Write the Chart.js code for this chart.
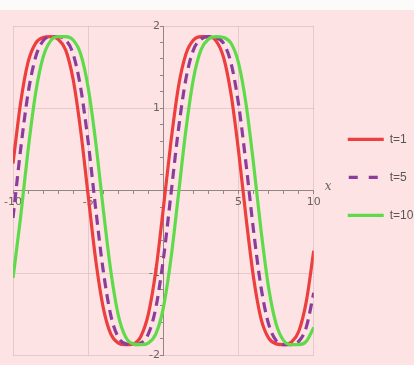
<!DOCTYPE html>
<html>
<head>
<meta charset="utf-8">
<script src="https://cdn.jsdelivr.net/npm/chart.js@4.4.1/dist/chart.umd.min.js"></script>
<style>
  html, body { margin: 0; padding: 0; background: #fff; }
</style>
</head>
<body>
<canvas id="chart" width="414" height="365"></canvas>
<script>
// x positions read along the axis
const xValues = [-10, -9.5, -9, -8.5, -8, -7.5, -7, -6.5, -6, -5.5, -5, -4.5, -4, -3.5, -3, -2.5, -2, -1.5, -1, -0.5,
  0, 0.5, 1, 1.5, 2, 2.5, 3, 3.5, 4, 4.5, 5, 5.5, 6, 6.5, 7, 7.5, 8, 8.5, 9, 9.5, 10];

// curve values
const uT1 = [0.33, 1.06, 1.56, 1.79, 1.86, 1.87, 1.84, 1.71, 1.35, 0.73, -0.06, -0.84, -1.42, -1.74, -1.85, -1.87, -1.86, -1.77, -1.50, -0.97,
  -0.21, 0.59, 1.26, 1.66, 1.83, 1.87, 1.87, 1.82, 1.62, 1.17, 0.48, -0.33, -1.06, -1.56, -1.79, -1.86, -1.87, -1.84, -1.71, -1.35, -0.73];
const uT5 = [-0.33, 0.49, 1.18, 1.62, 1.82, 1.87, 1.87, 1.83, 1.66, 1.25, 0.59, -0.22, -0.97, -1.51, -1.78, -1.86, -1.87, -1.85, -1.74, -1.42,
  -0.83, -0.05, 0.74, 1.36, 1.71, 1.84, 1.87, 1.86, 1.79, 1.55, 1.05, 0.32, -0.49, -1.18, -1.62, -1.82, -1.87, -1.87, -1.83, -1.66, -1.24];
const uT10 = [-1.06, -0.33, 0.49, 1.18, 1.62, 1.82, 1.87, 1.87, 1.83, 1.66, 1.25, 0.59, -0.22, -0.97, -1.51, -1.78, -1.86, -1.87, -1.85, -1.74,
  -1.42, -0.83, -0.05, 0.74, 1.36, 1.71, 1.84, 1.87, 1.86, 1.79, 1.55, 1.05, 0.32, -0.49, -1.18, -1.62, -1.82, -1.87, -1.87, -1.83, -1.66];

const seriesLabels = ['t=1', 't=5', 't=10'];

const axisColor = '#928686';
const gridColor = 'rgba(190,165,165,0.4)';
const labelColor = '#6a6262';

function toPoints(ys) {
  return xValues.map((x, i) => ({ x: x, y: ys[i] }));
}

function isWhole(v) {
  return Math.abs(v - Math.round(v)) < 1e-6;
}

// pink page background, white strip on top
const pinkBg = {
  id: 'pinkBg',
  beforeDraw(chart) {
    const { ctx, width, height } = chart;
    ctx.save();
    ctx.fillStyle = '#fdfafa';
    ctx.fillRect(0, 0, width, height);
    ctx.fillStyle = '#fde3e3';
    ctx.fillRect(0, 10, width, height - 10);
    ctx.restore();
  }
};

// push the legend a few pixels away from the plot
const legendNudge = {
  id: 'legendNudge',
  afterLayout(chart) {
    chart.legend.left += 8;
    chart.legend.right += 8;
  }
};

// little italic "x" at the end of the horizontal axis
const axisName = {
  id: 'axisName',
  afterDraw(chart) {
    const { ctx } = chart;
    const xs = chart.scales.x, ys = chart.scales.y;
    ctx.save();
    ctx.fillStyle = labelColor;
    ctx.font = 'italic 12px "DejaVu Serif"';
    ctx.textAlign = 'left';
    ctx.textBaseline = 'middle';
    ctx.fillText('x', xs.right + 11, ys.getPixelForValue(0) - 4);
    ctx.restore();
  }
};

const ctx = document.querySelector('#chart').getContext('2d');
const chart = new Chart(ctx, {
  type: 'line',
  data: {
    datasets: [
      {
        label: seriesLabels[0],
        data: toPoints(uT1),
        borderColor: '#ee3f3f',
        borderWidth: 3.2,
        order: 3
      },
      {
        label: seriesLabels[1],
        data: toPoints(uT5),
        borderColor: '#8c3d9c',
        borderWidth: 3.2,
        borderDash: [10, 6],
        order: 2
      },
      {
        label: seriesLabels[2],
        data: toPoints(uT10),
        borderColor: '#5fda4b',
        borderWidth: 3.2,
        order: 1
      }
    ]
  },
  options: {
    responsive: false,
    animation: false,
    layout: { padding: { left: 13, top: 26, right: 0, bottom: 7 } },
    elements: {
      point: { radius: 0 },
      line: { cubicInterpolationMode: 'monotone', fill: false }
    },
    scales: {
      x: {
        type: 'linear',
        min: -10,
        max: 10,
        position: { y: 0 },
        afterFit: (s) => { s.height = 0; },
        border: { color: axisColor, width: 1 },
        grid: {
          color: (c) => (c.tick && c.tick.value % 5 === 0 && c.tick.value !== 0) ? gridColor : 'rgba(0,0,0,0)',
          tickColor: axisColor,
          tickLength: 3
        },
        ticks: {
          stepSize: 1,
          autoSkip: false,
          maxRotation: 0,
          padding: 2,
          color: labelColor,
          font: { family: 'DejaVu Sans', size: 11 },
          callback: (v) => (v % 5 === 0 && v !== 0) ? String(v) : ''
        }
      },
      y: {
        type: 'linear',
        min: -2,
        max: 2,
        position: { x: 0 },
        afterFit: (s) => { s.width = 0; },
        border: { color: axisColor, width: 1 },
        grid: {
          color: (c) => (c.tick && isWhole(c.tick.value) && Math.round(c.tick.value) !== 0) ? gridColor : 'rgba(0,0,0,0)',
          tickColor: axisColor,
          tickLength: 3
        },
        ticks: {
          stepSize: 0.2,
          autoSkip: false,
          color: labelColor,
          font: { family: 'DejaVu Sans', size: 11 },
          callback: (v) => (isWhole(v) && Math.round(v) !== 0) ? String(Math.round(v)) + ' ' : ''
        }
      }
    },
    plugins: {
      tooltip: { enabled: false },
      legend: {
        position: 'right',
        align: 'start',
        title: { display: true, text: ' ', padding: { top: 0, bottom: 67 } },
        labels: {
          usePointStyle: true,
          pointStyle: 'line',
          pointStyleWidth: 36,
          padding: 26,
          color: '#5a5454',
          font: { family: 'Liberation Sans', size: 12 },
          sort: (a, b) => a.datasetIndex - b.datasetIndex,
          // point-style legend items lose the dash, put it back
          generateLabels: (chart) => Chart.defaults.plugins.legend.labels.generateLabels(chart).map((item) => {
            if (chart.data.datasets[item.datasetIndex].borderDash) {
              item.lineDash = [9, 11];
              item.lineDashOffset = -1;
            }
            return item;
          })
        }
      }
    }
  },
  plugins: [pinkBg, legendNudge, axisName]
});
</script>
</body>
</html>
